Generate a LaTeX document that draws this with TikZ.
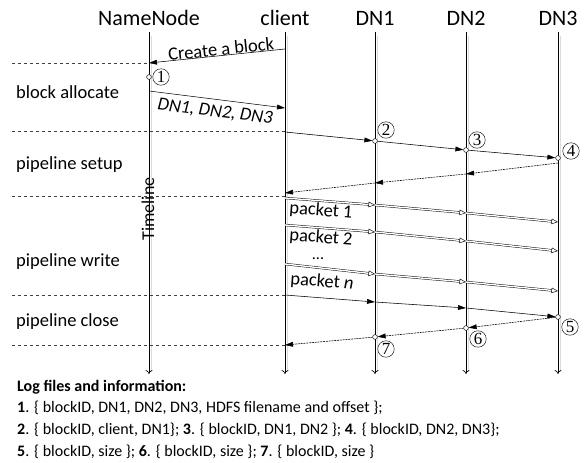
\documentclass[tikz,border=0pt]{standalone}
\usepackage{fontspec}
\setmainfont{Carlito}
\newfontfamily\numfont{Liberation Serif}
\usetikzlibrary{arrows.meta}

\begin{document}
\begin{tikzpicture}[x=1pt,y=-1pt,
  head/.style={font=\fontsize{22}{22}\selectfont, inner sep=0pt},
  lifeline/.style={line width=0.6pt, -{To[length=4pt,width=7pt]}},
  lshadow/.style={line width=1.3pt, black!14},
  msg/.style={line width=0.55pt, -{Triangle[length=8pt,width=4.8pt]}},
  ack/.style={msg, dash pattern=on 2pt off 0.8pt},
  pkt/.style={double, double distance=1.4pt, line width=0.45pt,
              -{Triangle[open,length=6.5pt,width=5.5pt]}},
  phaseline/.style={dashed, line width=0.5pt, black!75},
  phase/.style={font=\fontsize{18.5}{18.5}\selectfont, anchor=west, inner sep=0pt},
  lbl/.style={font=\fontsize{18.5}{18.5}\selectfont, inner sep=0pt},
  circnum/.style={circle, draw, line width=0.45pt, minimum size=16.5pt, inner sep=0pt,
                  font=\numfont\fontsize{17}{17}\selectfont},
  dot/.style={circle, draw, fill=white, line width=0.45pt, minimum size=4.8pt, inner sep=0pt},
  logtxt/.style={font=\fontsize{16}{16}\selectfont, anchor=west, inner sep=0pt}
]
\useasboundingbox (0,0) rectangle (587,463);

% participants
\node[head] (hNN) at (149,18) {NameNode};
\node[head] (hCL) at (285,18) {client};
\node[head] (hD1) at (375,18) {DN1};
\node[head] (hD2) at (466,18) {DN2};
\node[head] (hD3) at (558,18) {DN3};

% lifeline ends
\foreach \n/\x in {NN/149, CL/285, D1/375, D2/466, D3/558}{
  \coordinate (\n top) at (\x,32);
  \coordinate (\n end) at (\x,374);
  \draw[lshadow] (\x+2.6,36) -- (\x+2.6,372);
  \draw[lifeline] (\n top) -- (\n end);
}

% phase separators
\coordinate (s0) at (12,63);
\coordinate (s1) at (12,131);
\coordinate (s2) at (12,196);
\coordinate (s3) at (12,295);
\coordinate (s4) at (12,345);
\draw[phaseline] (s0) -- (149,63);
\draw[phaseline] (s1) -- (285,131);
\draw[phaseline] (s2) -- (285,196);
\draw[phaseline] (s3) -- (285,295);
\draw[phaseline] (s4) -- (285,345);

% phase names
\node[phase] (pA) at (16,92) {block allocate};
\node[phase] (pS) at (16,165) {pipeline setup};
\node[phase] (pW) at (16,262) {pipeline write};
\node[phase] (pC) at (16,322) {pipeline close};

\node[font=\fontsize{18}{18}\selectfont, rotate=90, inner sep=0pt] (tl) at (148,209) {Timeline};

% block allocation
\coordinate (cr0) at (285,49);
\coordinate (cr1) at (149,63);
\draw[msg] (cr0) -- (cr1);
\node[lbl, rotate=5.9] (lcr) at (221,49) {Create a block};

\node[dot] (o1) at (149,77) {};
\node[circnum] (n1) at (161,77) {1};

\coordinate (al0) at (149,91);
\coordinate (al1) at (285,108);
\draw[msg] (al0) -- (al1);
\node[lbl, rotate=-7.1, font=\fontsize{18.5}{18.5}\selectfont\itshape] (lal) at (215,112) {DN1, DN2, DN3};

% pipeline setup
\coordinate (su0) at (285,132);
\node[dot] (o2) at (375,141) {};
\node[dot] (o3) at (466,150) {};
\node[dot] (o4) at (558,158) {};
\draw[msg] (su0) -- (o2);
\draw[msg] (o2) -- (o3);
\draw[msg] (o3) -- (o4);
\node[circnum] (n2) at (386,130) {2};
\node[circnum] (n3) at (477,140) {3};
\node[circnum] (n4) at (571,151) {4};

\coordinate (ak0) at (558,163);
\coordinate (ak1) at (466,174);
\coordinate (ak2) at (375,183);
\coordinate (ak3) at (285,193);
\draw[ack] (ak0) -- (ak1);
\draw[ack] (ak1) -- (ak2);
\draw[ack] (ak2) -- (ak3);

% pipeline write: packets
\foreach \p/\a/\b/\c/\d in {a/198/205/213/222, b/225/232/241/251, c/264/274/282/291}{
  \coordinate (\p0) at (285,\a);
  \coordinate (\p1) at (375,\b);
  \coordinate (\p2) at (466,\c);
  \coordinate (\p3) at (558,\d);
  \draw[pkt] (\p0) -- (\p1);
  \draw[pkt] (\p1) -- (\p2);
  \draw[pkt] (\p2) -- (\p3);
}
\node[lbl, rotate=-4.4] (lp1) at (321,211) {packet 1};
\node[lbl, rotate=-4.4] (lp2) at (321,238) {packet 2};
\node[font=\fontsize{16}{16}\selectfont, inner sep=0pt, text height=2pt, text depth=0pt] (ldots) at (318,258) {...};
\node[lbl, rotate=-4.4] (lpn) at (322,282) {packet \textit{n}};

% pipeline close
\coordinate (cl0) at (285,295);
\coordinate (cl1) at (375,302);
\coordinate (cl2) at (466,308);
\node[dot] (o5) at (558,317) {};
\draw[msg] (cl0) -- (cl1);
\draw[msg] (cl1) -- (cl2);
\draw[msg] (cl2) -- (o5);

\node[dot] (o6) at (466,328) {};
\node[dot] (o7) at (375,337) {};
\coordinate (cb3) at (285,345);
\draw[ack] (o5) -- (o6);
\draw[ack] (o6) -- (o7);
\draw[ack] (o7) -- (cb3);
\node[circnum] (n5) at (570,327) {5};
\node[circnum] (n6) at (478,339) {6};
\node[circnum] (n7) at (386,349) {7};

% log records
\node[logtxt] (log0) at (17,387) {\textbf{Log files and information:}};
\node[logtxt] (log1) at (17,408) {\textbf{1}. \{ blockID, DN1, DN2, DN3, HDFS filename and offset \};};
\node[logtxt] (log2) at (17,430) {\textbf{2}. \{ blockID, client, DN1\}; \textbf{3}. \{ blockID, DN1, DN2 \}; \textbf{4}. \{ blockID, DN2, DN3\};};
\node[logtxt] (log3) at (17,452) {\textbf{5}. \{ blockID, size \}; \textbf{6}. \{ blockID, size \}; \textbf{7}. \{ blockID, size \}};
\end{tikzpicture}
\end{document}
